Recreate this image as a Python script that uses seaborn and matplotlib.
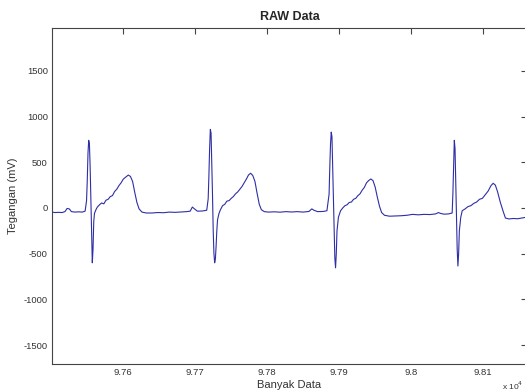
import matplotlib

matplotlib.use("Agg")
import matplotlib.pyplot as plt
import seaborn as sns

# ECG samples (sample index, mV)
sample = [97501, 97505, 97510, 97515, 97519, 97522, 97525, 97528, 97533, 97538,
          97543, 97547, 97549, 97550, 97551, 97552, 97553, 97554, 97555, 97556,
          97557, 97558, 97559, 97560, 97562, 97564, 97567, 97570, 97573, 97576,
          97579, 97582, 97585, 97588, 97591, 97594, 97597, 97600, 97603, 97607,
          97610, 97613, 97616, 97619, 97622, 97626, 97632, 97640, 97648, 97656,
          97664, 97672, 97680, 97688, 97693, 97696, 97699, 97703, 97710, 97716,
          97718, 97719, 97720, 97721, 97722, 97723, 97724, 97725, 97726, 97727,
          97728, 97729, 97730, 97731, 97733, 97735, 97738, 97741, 97744, 97747,
          97750, 97753, 97756, 97759, 97762, 97765, 97768, 97771, 97774, 97777,
          97780, 97783, 97786, 97789, 97792, 97796, 97802, 97810, 97818, 97826,
          97834, 97842, 97850, 97858, 97862, 97865, 97870, 97878, 97883, 97886,
          97887, 97888, 97889, 97890, 97891, 97892, 97893, 97894, 97895, 97896,
          97897, 97899, 97902, 97905, 97908, 97911, 97914, 97917, 97920, 97923,
          97926, 97929, 97932, 97935, 97938, 97941, 97944, 97947, 97950, 97953,
          97956, 97959, 97963, 97970, 97978, 97986, 97994, 98002, 98010, 98018,
          98026, 98034, 98038, 98041, 98046, 98052, 98057, 98058, 98059, 98060,
          98061, 98062, 98063, 98064, 98065, 98066, 98067, 98069, 98071, 98075,
          98079, 98083, 98087, 98091, 98095, 98099, 98103, 98107, 98111, 98114,
          98117, 98120, 98124, 98128, 98131, 98136, 98142, 98148, 98154, 98161]
tegangan = [-45, -50, -48, -50, -40, -5, -10, -40, -45, -42,
            -45, -35, 80, 300, 600, 740, 700, 450, 100, -300,
            -600, -450, -150, -60, -20, 10, 35, 55, 45, 85,
            95, 125, 135, 180, 205, 245, 275, 315, 335, 360,
            345, 290, 170, 60, -10, -45, -55, -55, -50, -52,
            -45, -48, -44, -40, -35, 10, -10, -35, -33, -25,
            100, 350, 650, 860, 820, 500, 150, -250, -500, -600,
            -560, -420, -250, -130, -60, -20, 25, 40, 75, 80,
            105, 125, 155, 175, 205, 235, 275, 315, 360, 380,
            355, 290, 160, 40, -20, -40, -45, -42, -46, -40,
            -44, -40, -45, -38, -10, -25, -40, -38, -30, 150,
            450, 700, 830, 780, 450, 100, -250, -550, -655, -500,
            -250, -100, -30, 0, 25, 35, 60, 65, 95, 105,
            135, 155, 195, 225, 275, 300, 317, 300, 230, 120,
            20, -50, -80, -90, -88, -85, -80, -70, -75, -70,
            -72, -65, -50, -60, -68, -65, -55, 150, 450, 740,
            650, 300, -100, -450, -635, -500, -250, -100, -30, -10,
            15, 25, 50, 65, 95, 105, 145, 185, 245, 270,
            250, 180, 60, -40, -110, -120, -115, -118, -110, -100]

x_ticks = [97600, 97700, 97800, 97900, 98000, 98100]
x_labels = ["9.76", "9.77", "9.78", "9.79", "9.8", "9.81"]
y_ticks = [-1500, -1000, -500, 0, 500, 1000, 1500]

sns.set_theme(style="white")
plt.rcParams["font.family"] = ["Liberation Sans", "DejaVu Sans"]
plt.rcParams["axes.unicode_minus"] = False

fig = plt.figure(figsize=(5.25, 3.92), dpi=100)
ax = fig.add_axes([52 / 525, 28 / 392, 475 / 525, 336 / 392])
sns.lineplot(x=sample, y=tegangan, ax=ax, color="#2e2ea6", linewidth=0.8,
             estimator=None, sort=False)

ax.set_xlim(97501, 98161)
ax.set_ylim(-1707, 1969)
ax.set_xticks(x_ticks)
ax.set_xticklabels(x_labels)
ax.set_yticks(y_ticks)
ax.tick_params(direction="in", top=True, right=True, length=4, width=0.8,
               color="#444444", labelcolor="#333333", labelsize=6.8, pad=3)
for s in ax.spines.values():
    s.set_color("#444444")
    s.set_linewidth(0.8)

ax.set_title("RAW Data", fontsize=9, fontweight="bold", pad=6)
ax.set_xlabel("Banyak Data", fontsize=8, color="#333333", labelpad=2)
ax.set_ylabel("Tegangan (mV)", fontsize=8, color="#333333", labelpad=4)
fig.text(523 / 525, 1 - 386 / 392, "x 10$^4$", fontsize=6, color="#333333",
         va="center", ha="right")

fig.savefig("out.png", dpi=100)
